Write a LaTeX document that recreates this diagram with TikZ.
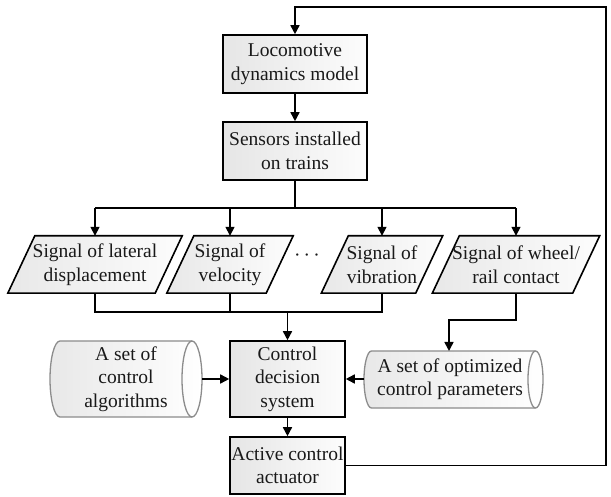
\documentclass[tikz,border=0pt]{standalone}
\usepackage{fontspec}
\setmainfont{Liberation Serif}
\usetikzlibrary{arrows.meta,backgrounds}
\begin{document}
\begin{tikzpicture}[x=1pt,y=-1pt,
  every node/.style={font=\fontsize{19.5}{23.5}\selectfont, text=black!90, align=center, inner sep=0pt},
  ln/.style={draw=black, line width=1.6pt},
  arr/.style={ln, -{Triangle[length=9pt,width=9pt]}},
  boxnode/.style={draw=black, line width=1.6pt, left color=black!10, right color=black!1},
  pnode/.style={minimum height=57pt},
  pg/.style={draw=black, line width=1.6pt, left color=black!9, right color=black!1},
  cyl/.style={draw=black!45, line width=1.3pt, left color=black!9, right color=white},
  cylline/.style={draw=black!45, line width=1.3pt}]
\useasboundingbox (0,0) rectangle (611,497);

% process boxes
\node[boxnode, minimum width=144pt, minimum height=58pt] (loco) at (295,64) {Locomotive\\dynamics model};
\node[boxnode, minimum width=144pt, minimum height=58pt] (sens) at (295,151) {Sensors installed\\on trains};
\node[boxnode, minimum width=115pt, minimum height=76pt] (ctrl) at (287.5,379) {Control\\decision\\system};
\node[boxnode, minimum width=115pt, minimum height=57pt] (act) at (287.5,465.5) {Active control\\actuator};

% signal (parallelogram) texts
\node[pnode, minimum width=147pt] (p1) at (95,264.5) {Signal of lateral\\displacement};
\node[pnode, minimum width=99pt] (p2) at (230,264.5) {Signal of\\velocity};
\node[pnode, minimum width=94pt] (p3) at (382,264.5) {Signal of\\vibration};
\node[pnode, minimum width=140pt] (p4) at (516,264.5) {Signal of wheel/\\rail contact};
\node (dots) at (307,258) {\textperiodcentered\,\textperiodcentered\,\textperiodcentered};

% cylinder texts
\node (alg) at (126,379) {A set of\\control\\algorithms};
\node (opt) at (450,379) {A set of optimized\\control parameters};

\begin{scope}[on background layer]
  \fill[white] (0,0) rectangle (611,497);
  \foreach \n in {p1,p2,p3,p4}
    \draw[pg] ([xshift=-13.5pt]\n.south west) -- ([xshift=13.5pt]\n.north west)
      -- ([xshift=13.5pt]\n.north east) -- ([xshift=-13.5pt]\n.south east) -- cycle;
  % left cylinder
  \draw[cyl] (60,341) -- (192,341) arc[start angle=-90, end angle=90, x radius=10, y radius=38]
    -- (60,417) arc[start angle=90, end angle=270, x radius=10, y radius=38] -- cycle;
  \draw[cylline] (192,341) arc[start angle=270, end angle=90, x radius=10, y radius=38];
  % right cylinder
  \draw[cyl] (371.5,351) -- (535.5,351) arc[start angle=-90, end angle=90, x radius=7.5, y radius=28.5]
    -- (371.5,408) arc[start angle=90, end angle=270, x radius=7.5, y radius=28.5] -- cycle;
  \draw[cylline] (535.5,351) arc[start angle=270, end angle=90, x radius=7.5, y radius=28.5];
\end{scope}

% connection points
\coordinate (b) at (295,208);
\coordinate (m) at (287.5,312);
\coordinate (w) at (449,320);
\coordinate (optT) at (449,351);
\coordinate (algR) at (202,379);
\coordinate (optL) at (364,379);
\coordinate (r2) at (606,7);

% connectors
\draw[arr] (loco.south) -- (sens.north);
\draw[ln] (sens.south) -- (b);
\draw[ln] (p1.north |- b) -- (p4.north |- b);
\foreach \n in {p1,p2,p3,p4} \draw[arr] (\n.north |- b) -- (\n.north);
\draw[ln] (p1.south) |- (m) -| (p3.south);
\draw[ln] (p2.south) -- (p2.south |- m);
\draw[arr] (m) -- (ctrl.north);
\draw[arr] (p4.south) |- (w) -- (optT);
\draw[arr] (algR) -- (ctrl.west);
\draw[arr] (optL) -- (ctrl.east);
\draw[arr] (ctrl.south) -- (act.north);
\draw[arr] (act.east) -| (r2) -| (loco.north);
\end{tikzpicture}
\end{document}
